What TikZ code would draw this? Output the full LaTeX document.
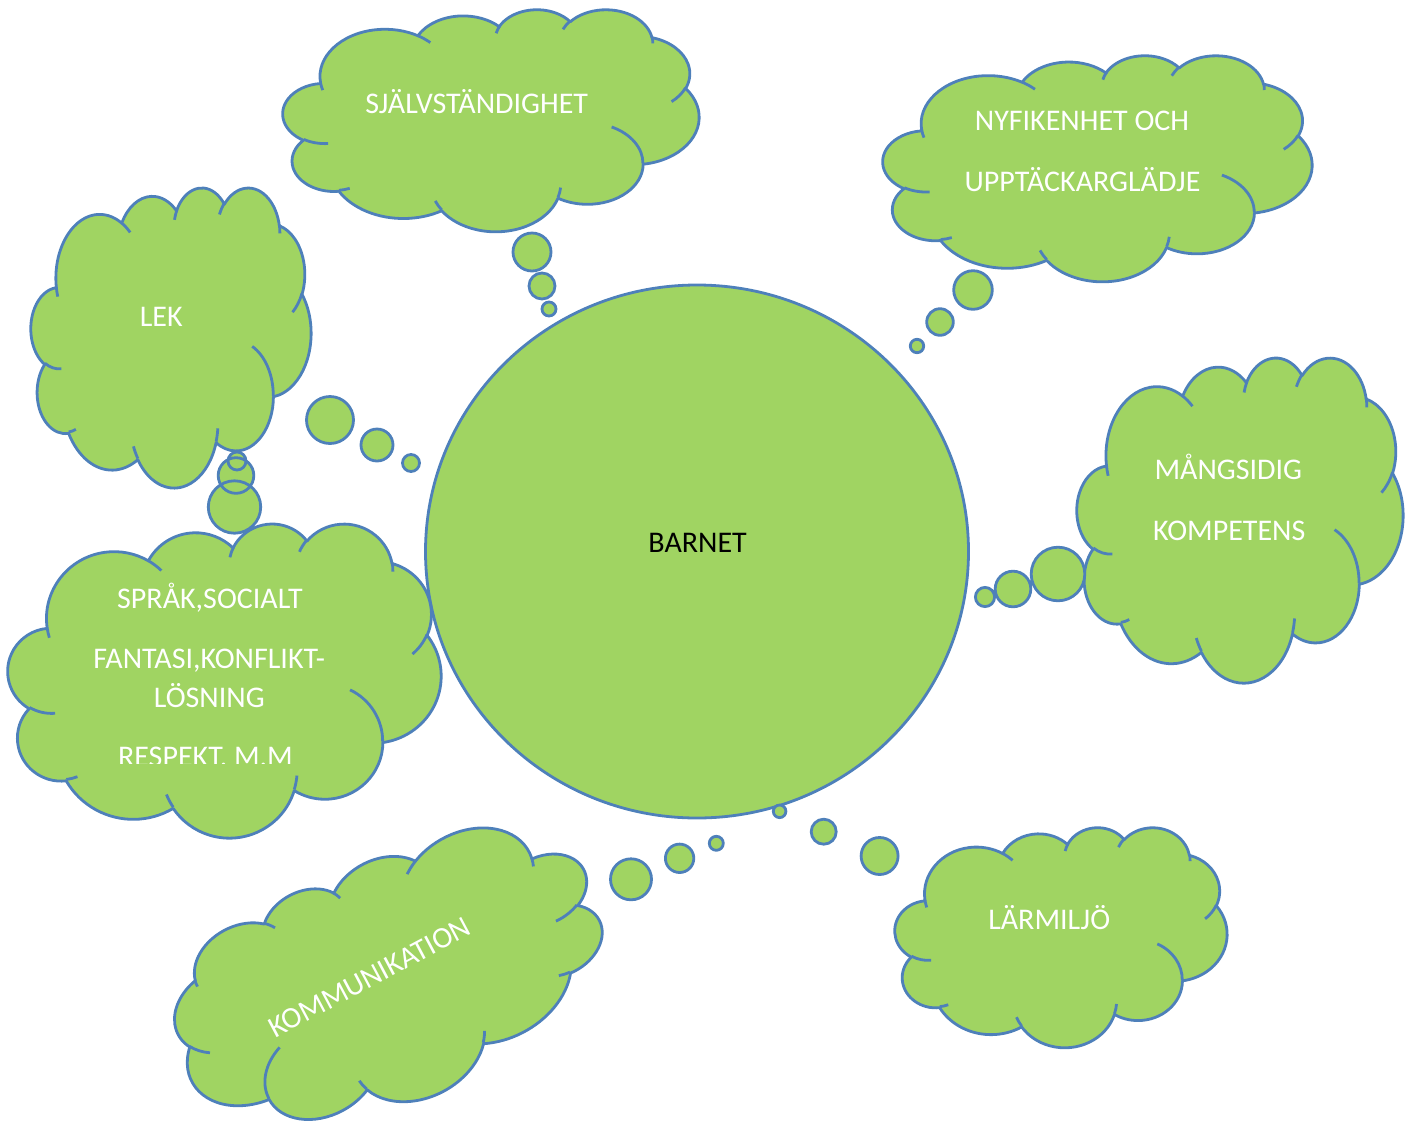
\documentclass[tikz,border=0pt]{standalone}
\usepackage{fontspec}
\setmainfont{Carlito}
\definecolor{cloudgreen}{RGB}{160,212,98}
\definecolor{cloudblue}{RGB}{78,128,186}
% convert an OOXML arcTo (visual angles) into TikZ parametric angles
\newcommand\defarc[5]{%
  \pgfmathsetmacro\tmpS{atan2((#2)*sin(#4),(#3)*cos(#4))}%
  \pgfmathsetmacro\tmpV{(#4)+(#5)}%
  \pgfmathsetmacro\tmpE{atan2((#2)*sin(\tmpV),(#3)*cos(\tmpV))}%
  \pgfmathsetmacro\tmpS{(\tmpS)+360*round(((#4)-(\tmpS))/360)}%
  \pgfmathsetmacro\tmpE{(\tmpE)+360*round(((\tmpV)-(\tmpE))/360)}%
  \expandafter\xdef\csname clds#1\endcsname{\tmpS}%
  \expandafter\xdef\csname clde#1\endcsname{\tmpE}%
}
\defarc{A}{6.753}{9.190}{-190.48748}{123.78053}
\defarc{B}{5.333}{7.267}{-144.10238}{89.94523}
\defarc{C}{4.365}{5.945}{-145.80792}{99.72302}
\defarc{D}{4.857}{6.595}{-130.98607}{117.24173}
\defarc{E}{5.333}{7.273}{-78.70888}{109.02692}
\defarc{F}{6.775}{9.220}{-46.26725}{130.269}
\defarc{G}{5.785}{7.867}{0.62502}{114.03333}
\defarc{H}{6.752}{9.215}{22.4516}{115.17255}
\defarc{I}{7.720}{10.543}{66.24263}{75.71102}
\defarc{J}{4.360}{5.918}{-274.94208}{146.73557}
\defarc{K}{4.345}{5.945}{-246.8285}{152.51885}
\defarc{a}{4.345}{5.945}{86.742}{26.4295}
\defarc{b}{4.360}{5.918}{73.6105}{11.4475}
\defarc{c}{6.752}{9.215}{137.6242}{14.0811}
\defarc{d}{6.752}{9.215}{6.4533}{15.9984}
\defarc{e}{5.785}{7.867}{-70.2924}{70.9174}
\defarc{f}{5.333}{7.273}{30.318}{27.7515}
\defarc{g}{4.857}{6.595}{-13.7443}{14.8589}
\defarc{h}{4.857}{6.595}{-149.1815}{18.1954}
\defarc{i}{4.365}{5.945}{-163.4943}{17.6864}
\defarc{j}{6.753}{9.190}{-66.7070}{12.3194}
\defarc{k}{6.753}{9.190}{157.6544}{11.8582}
\newcommand\cloudshape[1]{%
  \begin{scope}[#1]
  \path[cloudbody] (-17.700,-7.230)
    arc[x radius=6.753, y radius=9.190, start angle=\cldsA, end angle=\cldeA]
    arc[x radius=5.333, y radius=7.267, start angle=\cldsB, end angle=\cldeB]
    arc[x radius=4.365, y radius=5.945, start angle=\cldsC, end angle=\cldeC]
    arc[x radius=4.857, y radius=6.595, start angle=\cldsD, end angle=\cldeD]
    arc[x radius=5.333, y radius=7.273, start angle=\cldsE, end angle=\cldeE]
    arc[x radius=6.775, y radius=9.220, start angle=\cldsF, end angle=\cldeF]
    arc[x radius=5.785, y radius=7.867, start angle=\cldsG, end angle=\cldeG]
    arc[x radius=6.752, y radius=9.215, start angle=\cldsH, end angle=\cldeH]
    arc[x radius=7.720, y radius=10.543, start angle=\cldsI, end angle=\cldeI]
    arc[x radius=4.360, y radius=5.918, start angle=\cldsJ, end angle=\cldeJ]
    arc[x radius=4.345, y radius=5.945, start angle=\cldsK, end angle=\cldeK]
    -- cycle;
  \path[cloudline]
    (-16.907,4.577) arc[x radius=4.345, y radius=5.945, start angle=\cldsa, end angle=\cldea]
    (-14.672,13.299) arc[x radius=4.360, y radius=5.918, start angle=\cldsb, end angle=\cldeb]
    (-5.122,17.490) arc[x radius=6.752, y radius=9.215, start angle=\cldsc, end angle=\cldec]
    (7.227,13.151) arc[x radius=6.752, y radius=9.215, start angle=\cldsd, end angle=\clded]
    (12.529,1.354) arc[x radius=5.785, y radius=7.867, start angle=\cldse, end angle=\cldee]
    (20.198,-6.246) arc[x radius=5.333, y radius=7.273, start angle=\cldsf, end angle=\cldef]
    (16.724,-16.174) arc[x radius=4.857, y radius=6.595, start angle=\cldsg, end angle=\cldeg]
    (7.478,-17.648) arc[x radius=4.857, y radius=6.595, start angle=\cldsh, end angle=\cldeh]
    (0.541,-16.880) arc[x radius=4.365, y radius=5.945, start angle=\cldsi, end angle=\cldei]
    (-7.600,-16.408) arc[x radius=6.753, y radius=9.190, start angle=\cldsj, end angle=\cldej]
    (-17.473,-5.811) arc[x radius=6.753, y radius=9.190, start angle=\cldsk, end angle=\cldek];
  \end{scope}}
\begin{document}
\begin{tikzpicture}[x=1pt,y=1pt,yscale=-1,
  cloudbody/.style={fill=cloudgreen, draw=cloudblue, line width=2.8pt, line join=round},
  cloudline/.style={draw=cloudblue, line width=2.8pt},
  bubble/.style={fill=cloudgreen, draw=cloudblue, line width=2.8pt},
  lbl/.style={text=white, font=\fontsize{30}{35}\selectfont, inner sep=0pt, anchor=base},
  centerlbl/.style={lbl, text=black}]
\useasboundingbox (0,0) rectangle (1414,1120);
% central circle
\path[cloudbody] (697,551.5) ellipse[x radius=271.5, y radius=266.5];
% clouds
\cloudshape{shift={(491,120)}, xscale=9.6296, yscale=5.1389}
\cloudshape{shift={(1097.5,168)}, xscale=9.9306, yscale=5.2315}
\cloudshape{shift={(171,337)}, xscale=6.4815, yscale=6.9444}
\cloudshape{shift={(224.5,680)}, xscale=10.0231, yscale=7.2685}
\cloudshape{shift={(1240,519.5)}, xscale=7.5463, yscale=7.5231}
\cloudshape{shift={(1061,937)}, xscale=7.6852, yscale=5.0926}
\cloudshape{shift={(390,980)}, rotate=-28, xscale=-10.3009, yscale=5.6713}
% thought bubbles
\path[bubble] (532,252) circle[radius=19] (542,286) circle[radius=13] (549,309) circle[radius=7];
\path[bubble] (973,290) circle[radius=19.3] (940,322) circle[radius=13.3] (917,346) circle[radius=6.7];
\path[bubble] (330,420) circle[radius=23.5] (377,445) circle[radius=16] (411,463) circle[radius=8.5];
\path[bubble] (237,461) circle[radius=9] (236,475.5) circle[radius=17.8] (234.5,507) circle[radius=26.2];
\path[bubble] (1058,574) circle[radius=26.8] (1013,589) circle[radius=17.8] (985,597) circle[radius=9.6];
\path[bubble] (631,879.3) circle[radius=20.5] (679.6,858.3) circle[radius=14.2] (716.3,843.3) circle[radius=7];
\path[bubble] (779.6,811.3) circle[radius=6.3] (823.7,831.7) circle[radius=12.5] (879.6,856) circle[radius=18.5];
% labels
\node[centerlbl] (barnet) at (697.6,552.1) {BARNET};
\node[lbl] (sjalv) at (476.7,113.3) {SJÄLVSTÄNDIGHET};
\node[lbl] (nyf1) at (1082,130.7) {NYFIKENHET OCH};
\node[lbl] (nyf2) at (1082.5,191.7) {UPPTÄCKARGLÄDJE};
\node[lbl] (lek) at (161.2,326.7) {LEK};
\node[lbl] (spr1) at (210,608.3) {SPRÅK,SOCIALT};
\node[lbl] (spr2) at (209.2,668.3) {FANTASI,KONFLIKT-};
\node[lbl] (spr3) at (209.3,707.3) {LÖSNING};
\begin{scope}
  \clip (0,0) rectangle (1414,763);
  \node[lbl] (spr4) at (205.5,766.7) {RESPEKT, M.M};
\end{scope}
\node[lbl] (mang1) at (1228.3,479.3) {MÅNGSIDIG};
\node[lbl] (mang2) at (1229.2,540.7) {KOMPETENS};
\node[lbl] (lar) at (1049.2,929.3) {LÄRMILJÖ};
\node[lbl, rotate=28] (komm) at (374,986) {KOMMUNIKATION};
\end{tikzpicture}
\end{document}
